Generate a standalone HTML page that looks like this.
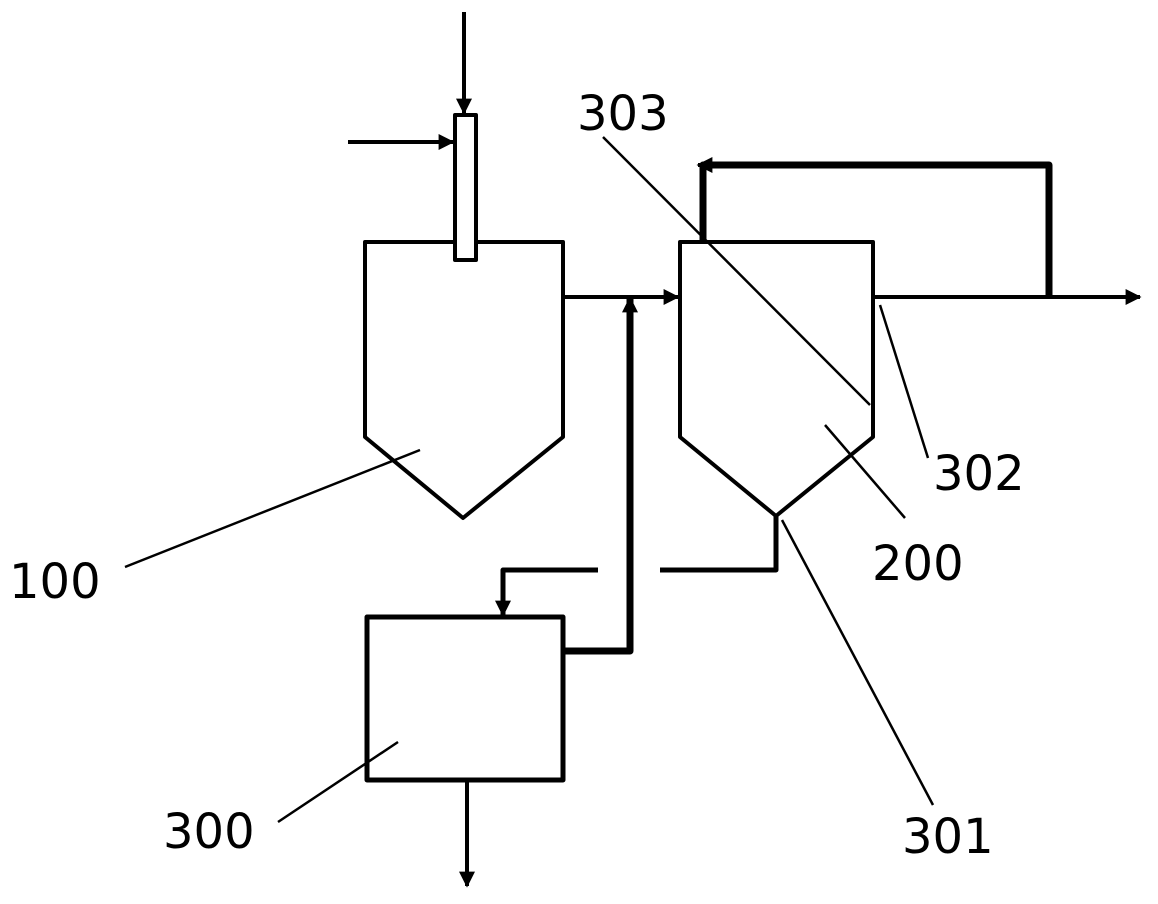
<!DOCTYPE html>
<html><head><style>body{margin:0;background:#fff}svg{display:block}text{font-family:"DejaVu Sans","Liberation Sans",sans-serif;font-size:48px;fill:#000}</style></head><body>
<svg width="1158" height="904" viewBox="0 0 1158 904" xmlns="http://www.w3.org/2000/svg">
<defs><marker id="a" viewBox="0 0 10 10" refX="9" refY="5" markerWidth="16" markerHeight="16" markerUnits="userSpaceOnUse" orient="auto"><path d="M0,0L10,5L0,10z" fill="#000"/></marker></defs>
<g fill="none" stroke="#000" stroke-linejoin="round">
<path d="M365,437V242H563V437L463,518Z" stroke-width="4"/>
<path d="M680,437V242H873V437L776,516Z" stroke-width="4"/>
<rect x="455" y="115" width="21" height="145" fill="#fff" stroke-width="4"/>
<path d="M464,12V113" stroke-width="4" marker-end="url(#a)"/>
<path d="M348,142H453" stroke-width="4" marker-end="url(#a)"/>
<path d="M563,297H678" stroke-width="4" marker-end="url(#a)"/>
<path d="M565,651H630V298" stroke-width="7" marker-end="url(#a)"/>
<path d="M703,243V165H1049V297" stroke-width="7"/>
<path d="M706,165H698" stroke-width="4" marker-end="url(#a)"/>
<path d="M873,297H1140" stroke-width="4" marker-end="url(#a)"/>
<path d="M776,516V570H660" stroke-width="5"/>
<path d="M598,570H503V615" stroke-width="5" marker-end="url(#a)"/>
<rect x="367" y="617" width="196" height="163" stroke-width="5"/>
<path d="M467,780V886" stroke-width="4" marker-end="url(#a)"/>
<g stroke-width="2.5">
<path d="M603,137L870,405"/>
<path d="M125,567L420,450"/>
<path d="M278,822L398,742"/>
<path d="M905,518L825,425"/>
<path d="M928,458L880,305"/>
<path d="M933,805L782,520"/>
</g></g>
<text x="577" y="130">303</text>
<text x="933" y="490">302</text>
<text x="872" y="580">200</text>
<text x="902" y="853">301</text>
<text x="9" y="598">100</text>
<text x="163" y="848">300</text>
</svg></body></html>
